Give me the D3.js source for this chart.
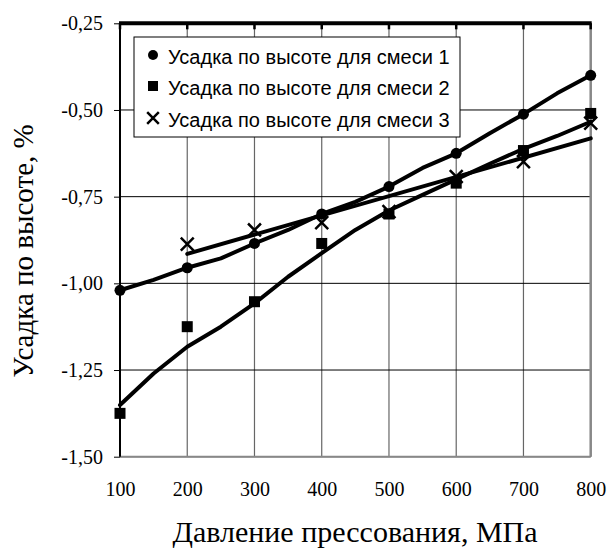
<!DOCTYPE html>
<html><head><meta charset="utf-8">
<script src="https://cdn.jsdelivr.net/npm/d3@7"></script>
<style>html,body{margin:0;padding:0;background:#fff;}</style>
</head><body>
<svg id="c" width="608" height="551"></svg>
<script>
const pressures = [100,200,300,400,500,600,700,800];
const mix1 = [-1.02,-0.955,-0.885,-0.80,-0.721,-0.625,-0.512,-0.40];
const mix2 = [-1.375,-1.125,-1.053,-0.885,-0.80,-0.711,-0.617,-0.51];
const mix3 = [null,-0.887,-0.846,-0.825,-0.793,-0.692,-0.649,-0.538];
// trend lines
const trendX = [100,150,200,250,300,350,400,450,500,550,600,650,700,750,800];
const trend1 = [-1.02,-0.99,-0.955,-0.928,-0.885,-0.846,-0.80,-0.765,-0.721,-0.667,-0.625,-0.567,-0.512,-0.452,-0.40];
const trend2 = [-1.351,-1.26,-1.183,-1.125,-1.058,-0.981,-0.913,-0.846,-0.79,-0.745,-0.70,-0.655,-0.612,-0.575,-0.534];
const trend3X = [200,800];
const trend3 = [-0.915,-0.582];
const yTicks = [-0.25,-0.5,-0.75,-1.0,-1.25,-1.5];
const legendLabels = ["Усадка по высоте для смеси 1","Усадка по высоте для смеси 2","Усадка по высоте для смеси 3"];

const svg = d3.select("#c");
const x = d3.scaleLinear().domain([100,800]).range([120,590.7]);
const y = d3.scaleLinear().domain([-1.5,-0.25]).range([456.7,23.3]);
const fmt = v => v.toFixed(2).replace(".",",");

// grid
svg.append("g").selectAll("line").data(pressures).join("line")
  .attr("x1",d=>x(d)).attr("x2",d=>x(d)).attr("y1",y(-0.25)).attr("y2",y(-1.5))
  .attr("stroke","#666").attr("stroke-width",1.2);
svg.append("g").selectAll("line").data(yTicks).join("line")
  .attr("x1",x(100)).attr("x2",x(800)).attr("y1",d=>y(d)).attr("y2",d=>y(d))
  .attr("stroke","#000").attr("stroke-width",1);
// borders
svg.append("line").attr("x1",x(800)).attr("x2",x(800)).attr("y1",y(-0.25)).attr("y2",y(-1.5)).attr("stroke","#888").attr("stroke-width",2.5);
svg.append("line").attr("x1",x(100)).attr("x2",x(800)).attr("y1",y(-1.5)).attr("y2",y(-1.5)).attr("stroke","#888").attr("stroke-width",2);
svg.append("line").attr("x1",x(100)).attr("x2",x(100)).attr("y1",y(-0.25)).attr("y2",y(-1.5)).attr("stroke","#000").attr("stroke-width",2);
svg.append("line").attr("x1",x(100)-1).attr("x2",x(800)+1).attr("y1",y(-0.25)).attr("y2",y(-0.25)).attr("stroke","#000").attr("stroke-width",4);
svg.append("g").selectAll("line").data(pressures).join("line")
  .attr("x1",d=>x(d)).attr("x2",d=>x(d)).attr("y1",y(-0.25)).attr("y2",y(-0.25)+6)
  .attr("stroke","#000").attr("stroke-width",2.5);

// y axis
const yAxis = d3.axisLeft(y).tickValues(yTicks).tickFormat(fmt).tickSize(6).tickPadding(11);
const ga = svg.append("g").attr("transform",`translate(${x(100)},0)`).call(yAxis);
ga.select(".domain").remove();
ga.selectAll("text").attr("font-family","Liberation Serif").attr("font-size",20).attr("fill","#000");
ga.selectAll("line").attr("stroke","#000");
// x axis
const xAxis = d3.axisBottom(x).tickValues(pressures).tickFormat(d3.format("d")).tickSize(0).tickPadding(25);
const gx = svg.append("g").attr("transform",`translate(0,${y(-1.5)})`).call(xAxis);
gx.select(".domain").remove();
gx.selectAll("text").attr("font-family","Liberation Serif").attr("font-size",20).attr("fill","#000");

// titles
svg.append("text").attr("x",355).attr("y",542).attr("text-anchor","middle")
  .attr("font-family","Liberation Serif").attr("font-size",30).text("Давление прессования, МПа");
svg.append("text").attr("transform","translate(33,251) rotate(-90)").attr("text-anchor","middle")
  .attr("font-family","Liberation Serif").attr("font-size",29).text("Усадка по высоте, %");

// trend lines
const line = d3.line().x(d=>x(d[0])).y(d=>y(d[1]));
const lg = svg.append("g").attr("fill","none").attr("stroke","#000").attr("stroke-width",4).attr("stroke-linejoin","round").attr("stroke-linecap","round");
lg.append("path").attr("d",line(trendX.map((v,i)=>[v,trend1[i]])));
lg.append("path").attr("d",line(trendX.map((v,i)=>[v,trend2[i]])));
lg.append("path").attr("d",line(trend3X.map((v,i)=>[v,trend3[i]])));

// markers
svg.append("g").selectAll("circle").data(pressures.map((p,i)=>[p,mix1[i]])).join("circle")
  .attr("cx",d=>x(d[0])).attr("cy",d=>y(d[1])).attr("r",5.5).attr("fill","#000");
svg.append("g").selectAll("rect").data(pressures.map((p,i)=>[p,mix2[i]])).join("rect")
  .attr("x",d=>x(d[0])-5.5).attr("y",d=>y(d[1])-5.5).attr("width",11).attr("height",11).attr("fill","#000");
const xs = d3.symbol().type(d3.symbolX).size(110);
svg.append("g").selectAll("path").data(pressures.map((p,i)=>[p,mix3[i]]).filter(d=>d[1]!==null)).join("path")
  .attr("transform",d=>`translate(${x(d[0])},${y(d[1])})`).attr("d",xs)
  .attr("fill","none").attr("stroke","#000").attr("stroke-width",2.5);

// legend
const leg = svg.append("g");
leg.append("rect").attr("x",134).attr("y",37).attr("width",326).attr("height",100).attr("fill","#fff").attr("stroke","#000").attr("stroke-width",1);
const rowsY = [57,88,120];
leg.selectAll("text").data(legendLabels).join("text")
  .attr("x",168).attr("y",(d,i)=>rowsY[i]).attr("dy","0.35em")
  .attr("font-family","Liberation Sans").attr("font-size",20).text(d=>d);
leg.append("circle").attr("cx",153).attr("cy",rowsY[0]-2).attr("r",5).attr("fill","#000");
leg.append("rect").attr("x",148).attr("y",rowsY[1]-7).attr("width",10).attr("height",10).attr("fill","#000");
leg.append("path").attr("transform",`translate(153,${rowsY[2]-2})`).attr("d",d3.symbol().type(d3.symbolX).size(90))
  .attr("fill","none").attr("stroke","#000").attr("stroke-width",2.5);
</script>
</body></html>
